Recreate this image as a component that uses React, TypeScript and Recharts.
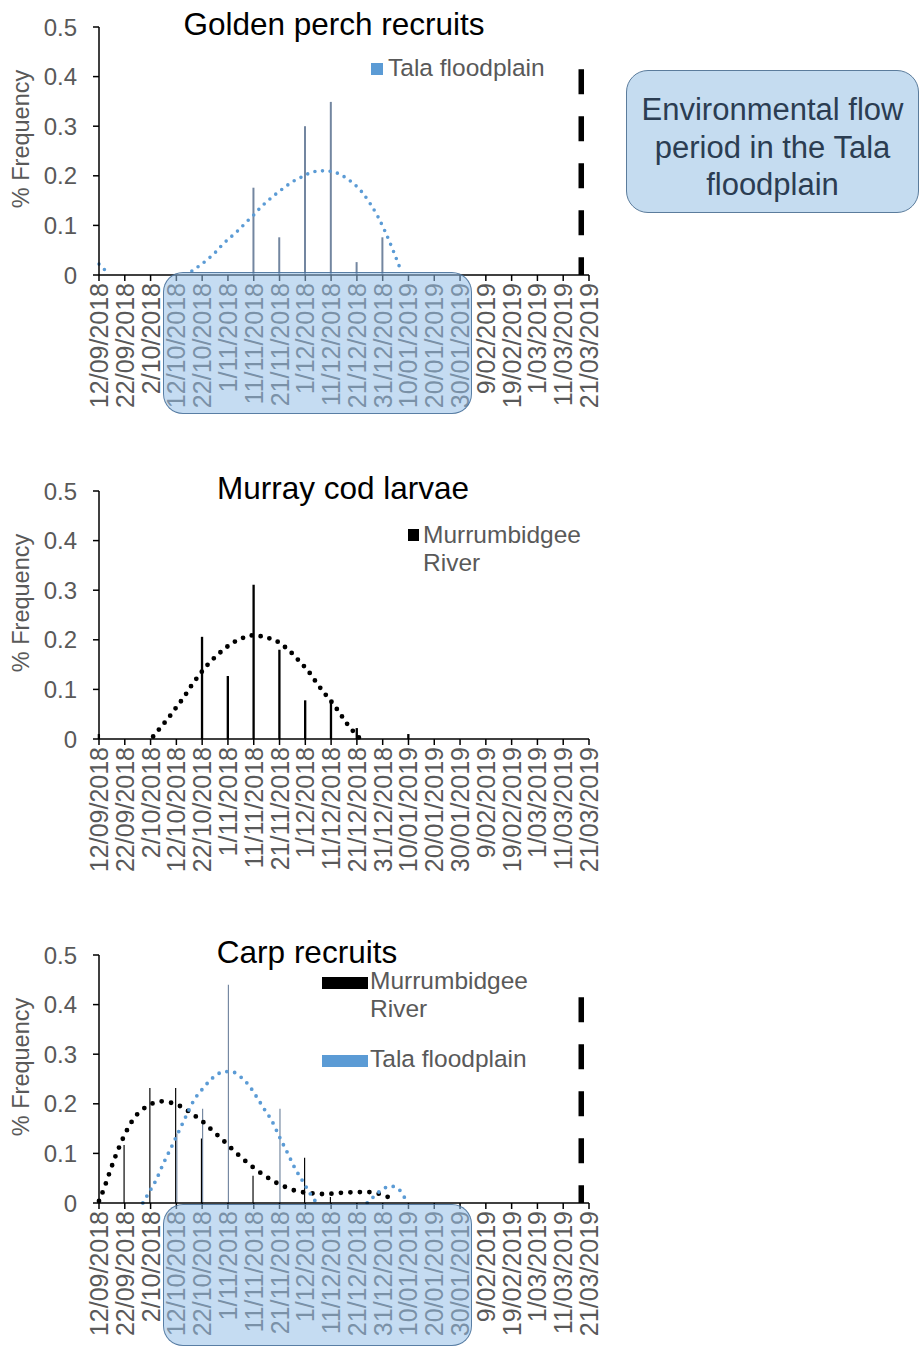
import React from "react";
import { ComposedChart, Bar, Line, XAxis, YAxis, ReferenceLine, Legend } from "recharts";

const FONT = "'Liberation Sans', Arial, Helvetica, sans-serif";
const GREY = "#595959";
const BLUE = "#5b9bd5";
const BLUE_BAR = "#7386a0";

// x axis: days since 12/09/2018, one tick every 10 days
const TICK_DAYS = [0, 10, 20, 30, 40, 50, 60, 70, 80, 90, 100, 110, 120, 130, 140, 150, 160, 170, 180, 190];
const TICK_LABELS = [
  "12/09/2018", "22/09/2018", "2/10/2018", "12/10/2018", "22/10/2018", "1/11/2018", "11/11/2018",
  "21/11/2018", "1/12/2018", "11/12/2018", "21/12/2018", "31/12/2018", "10/01/2019", "20/01/2019",
  "30/01/2019", "9/02/2019", "19/02/2019", "1/03/2019", "11/03/2019", "21/03/2019",
];
const Y_TICKS = [0, 0.1, 0.2, 0.3, 0.4, 0.5];
const FLOW_END_DAY = 187;
const FLOW_LINE_TOP = 0.415;

// Golden perch recruits (Tala floodplain)
const GP_BAR_DAYS = [60, 70, 80, 90, 100, 110];
const GP_BAR_TALA = [0.176, 0.076, 0.3, 0.349, 0.026, 0.076];
const GP_TREND_DAYS = [0, 3.5, 5, 36, 39, 42, 45, 48, 51, 54, 57, 60, 63, 66, 69, 72, 75, 78, 81, 84, 87, 90, 93, 96, 99, 102, 105, 108, 111, 114, 117];
const GP_TREND_TALA = [0.022, 0.004, null, 0.008, 0.019, 0.031, 0.045, 0.062, 0.076, 0.09, 0.106, 0.121, 0.138, 0.152, 0.165, 0.177, 0.188, 0.196, 0.204, 0.209, 0.21, 0.209, 0.204, 0.195, 0.183, 0.167, 0.145, 0.119, 0.087, 0.05, 0.01];

// Murray cod larvae (Murrumbidgee River)
const MC_BAR_DAYS = [0, 40, 50, 60, 70, 80, 90, 100, 120];
const MC_BAR_RIVER = [0.01, 0.206, 0.127, 0.311, 0.18, 0.078, 0.078, 0.022, 0.01];
const MC_TREND_DAYS = [21, 24, 27, 30, 33, 36, 39, 42, 45, 48, 51, 54, 57, 60, 63, 66, 69, 72, 75, 78, 81, 84, 87, 90, 93, 96, 99, 101];
const MC_TREND_RIVER = [0.005, 0.024, 0.043, 0.064, 0.085, 0.109, 0.13, 0.149, 0.165, 0.179, 0.191, 0.2, 0.206, 0.209, 0.207, 0.203, 0.197, 0.186, 0.172, 0.155, 0.138, 0.116, 0.095, 0.076, 0.055, 0.032, 0.013, 0.002];

// Carp recruits (both sites)
const CARP_BAR_DAYS = [10, 20, 30, 40, 50, 60, 70, 80, 90];
const CARP_BAR_RIVER = [0.117, 0.232, 0.232, 0.13, null, 0.055, null, 0.091, 0.012];
const CARP_BAR_TALA = [null, null, 0.14, 0.19, 0.44, null, 0.19, null, null];
const CARP_TREND_RIVER_DAYS = [0, 2, 4, 6, 8, 10, 12, 14, 17, 20, 24, 28, 32, 36, 40, 44, 48, 52, 56, 60, 64, 68, 72, 76, 80, 84, 88, 92, 96, 100, 105, 109, 113, 115];
const CARP_TREND_RIVER = [0.004, 0.03, 0.06, 0.089, 0.115, 0.138, 0.158, 0.174, 0.189, 0.199, 0.205, 0.202, 0.194, 0.18, 0.165, 0.146, 0.127, 0.107, 0.088, 0.071, 0.056, 0.043, 0.033, 0.025, 0.021, 0.019, 0.018, 0.02, 0.021, 0.022, 0.022, 0.018, 0.01, 0.005];
const CARP_TREND_TALA_DAYS = [17, 19, 22, 25, 28, 31, 34, 37, 40, 43, 46, 49, 52, 55, 58, 61, 64, 67, 70, 73, 76, 79, 82, 84, 95, 104, 107, 110, 113, 116, 118, 119.5];
const CARP_TREND_TALA = [0.0, 0.018, 0.045, 0.08, 0.112, 0.145, 0.178, 0.209, 0.229, 0.247, 0.26, 0.265, 0.264, 0.254, 0.238, 0.215, 0.19, 0.166, 0.133, 0.102, 0.07, 0.044, 0.018, 0.003, null, 0.0, 0.015, 0.028, 0.034, 0.029, 0.015, 0.002];

function rows(days: number[], cols: Record<string, (number | null)[]>) {
  return days.map((day, i) => {
    const r: Record<string, number | null> = { day };
    Object.keys(cols).forEach((k) => (r[k] = cols[k][i]));
    return r;
  });
}

function DateTick({ x, y, payload }: any) {
  const label = TICK_LABELS[TICK_DAYS.indexOf(payload.value)] ?? "";
  return (
    <text
      x={x}
      y={y}
      transform={`rotate(-90 ${x} ${y})`}
      textAnchor="end"
      dominantBaseline="central"
      fill={GREY}
      fontSize={25}
      fontFamily={FONT}
    >
      {label}
    </text>
  );
}

type Key = { x: number; y: number; w: number; h: number; color: string };
type Txt = { x: number; y: number; lines: string[] };

function legendContent(keys: Key[], texts: Txt[]) {
  return () => (
    <div style={{ position: "relative", width: 1, height: 1, fontFamily: FONT }}>
      {keys.map((k, i) => (
        <div key={i} style={{ position: "absolute", left: k.x, top: k.y, width: k.w, height: k.h, background: k.color }} />
      ))}
      {texts.map((t, i) => (
        <div key={i} style={{ position: "absolute", left: t.x, top: t.y, fontSize: 24.5, lineHeight: "28px", color: GREY, whiteSpace: "nowrap" }}>
          {t.lines.map((l) => (
            <div key={l}>{l}</div>
          ))}
        </div>
      ))}
    </div>
  );
}

type BarDef = { key: string; color: string; size: number };
type LineDef = { data: any[]; color: string; width: number; gap: number };

function FishChart({
  top,
  title,
  titleX,
  data,
  bars,
  lines,
  flowLine,
  legend,
}: {
  top: number;
  title: string;
  titleX: number;
  data: any[];
  bars: BarDef[];
  lines: LineDef[];
  flowLine: boolean;
  legend: () => React.ReactNode;
}) {
  return (
    <div style={{ position: "absolute", left: 0, top, width: 620, height: 417 }}>
      <ComposedChart
        width={620}
        height={417}
        data={data}
        margin={{ top: 27, right: 31, bottom: 0, left: 0 }}
        barGap={0}
      >
        <XAxis
          dataKey="day"
          type="number"
          domain={[0, 190]}
          ticks={TICK_DAYS}
          interval={0}
          height={142}
          tick={<DateTick />}
          tickSize={6}
          tickMargin={2}
          axisLine={{ stroke: "#000", strokeWidth: 1.5 }}
          tickLine={{ stroke: "#000", strokeWidth: 1.5 }}
        />
        <YAxis
          type="number"
          domain={[0, 0.5]}
          ticks={Y_TICKS}
          width={99}
          tickSize={6}
          tickMargin={16}
          tickFormatter={(v: number) => (v === 0 ? "0" : v.toFixed(1))}
          tick={{ fill: GREY, fontSize: 24, fontFamily: FONT }}
          axisLine={{ stroke: "#000", strokeWidth: 1.5 }}
          tickLine={{ stroke: "#000", strokeWidth: 1.5 }}
          label={{
            value: "% Frequency",
            angle: -90,
            position: "insideLeft",
            offset: 21,
            dy: -12,
            fill: GREY,
            fontSize: 23.5,
            fontFamily: FONT,
            style: { textAnchor: "middle" },
          }}
        />
        {bars.map((b) => (
          <Bar key={b.key} dataKey={b.key} fill={b.color} barSize={b.size} isAnimationActive={false} />
        ))}
        {lines.map((l, i) => (
          <Line
            key={i}
            data={l.data}
            dataKey="v"
            type="monotone"
            stroke={l.color}
            strokeWidth={l.width}
            strokeDasharray={`0 ${l.gap}`}
            strokeLinecap="round"
            dot={false}
            activeDot={false}
            connectNulls={false}
            isAnimationActive={false}
          />
        ))}
        {flowLine && (
          <ReferenceLine
            segment={[
              { x: FLOW_END_DAY, y: FLOW_LINE_TOP },
              { x: FLOW_END_DAY, y: 0 },
            ]}
            stroke="#000"
            strokeWidth={5.5}
            strokeDasharray="25 22"
          />
        )}
        <Legend
          layout="horizontal"
          align="center"
          verticalAlign="middle"
          content={legend}
          wrapperStyle={{ left: 0, top: 0, width: 1, height: 1 }}
        />
      </ComposedChart>
      <div
        style={{
          position: "absolute",
          left: titleX,
          top: 9,
          transform: "translateX(-50%)",
          fontSize: 31.5,
          lineHeight: "31.5px",
          color: "#000",
          fontFamily: FONT,
          whiteSpace: "nowrap",
        }}
      >
        {title}
      </div>
    </div>
  );
}

function FlowBand({ top, height }: { top: number; height: number }) {
  return (
    <div
      style={{
        position: "absolute",
        left: 163,
        top,
        width: 309,
        height,
        boxSizing: "border-box",
        borderRadius: 20,
        background: "rgba(150,192,232,0.55)",
        border: "1.5px solid rgba(70,110,150,0.85)",
      }}
    />
  );
}

export default function App() {
  const gpData = rows(GP_BAR_DAYS, { tala: GP_BAR_TALA });
  const mcData = rows(MC_BAR_DAYS, { river: MC_BAR_RIVER });
  const carpData = rows(CARP_BAR_DAYS, { river: CARP_BAR_RIVER, tala: CARP_BAR_TALA });

  return (
    <div style={{ position: "absolute", left: 0, top: 0, width: 922, height: 1346, background: "#fff", fontFamily: FONT }}>
      <FishChart
        top={0}
        title="Golden perch recruits"
        titleX={334}
        data={gpData}
        bars={[{ key: "tala", color: BLUE_BAR, size: 2 }]}
        lines={[{ data: rows(GP_TREND_DAYS, { v: GP_TREND_TALA }), color: BLUE, width: 3.6, gap: 7.6 }]}
        flowLine
        legend={legendContent(
          [{ x: 371, y: 63, w: 12, h: 12, color: BLUE }],
          [{ x: 388, y: 54, lines: ["Tala floodplain"] }]
        )}
      />
      <FlowBand top={272} height={142} />

      <FishChart
        top={464}
        title="Murray cod larvae"
        titleX={343}
        data={mcData}
        bars={[{ key: "river", color: "#000", size: 2.6 }]}
        lines={[{ data: rows(MC_TREND_DAYS, { v: MC_TREND_RIVER }), color: "#000", width: 4.8, gap: 9 }]}
        flowLine={false}
        legend={legendContent(
          [{ x: 408, y: 529 - 464, w: 11, h: 12, color: "#000" }],
          [{ x: 423, y: 521 - 464, lines: ["Murrumbidgee", "River"] }]
        )}
      />

      <FishChart
        top={928}
        title="Carp recruits"
        titleX={307}
        data={carpData}
        bars={[
          { key: "river", color: "#000", size: 2.6 },
          { key: "tala", color: BLUE_BAR, size: 2 },
        ]}
        lines={[
          { data: rows(CARP_TREND_RIVER_DAYS, { v: CARP_TREND_RIVER }), color: "#000", width: 4.8, gap: 9.5 },
          { data: rows(CARP_TREND_TALA_DAYS, { v: CARP_TREND_TALA }), color: BLUE, width: 3.8, gap: 8 },
        ]}
        flowLine
        legend={legendContent(
          [
            { x: 322, y: 977 - 928, w: 46, h: 12, color: "#000" },
            { x: 322, y: 1055 - 928, w: 46, h: 12, color: BLUE },
          ],
          [
            { x: 370, y: 967 - 928, lines: ["Murrumbidgee", "River"] },
            { x: 370, y: 1045 - 928, lines: ["Tala floodplain"] },
          ]
        )}
      />
      <FlowBand top={1204} height={142} />

      <div
        style={{
          position: "absolute",
          left: 626,
          top: 70,
          width: 293,
          height: 143,
          boxSizing: "border-box",
          borderRadius: 22,
          background: "#c5dcf0",
          border: "1.5px solid #5b7c9c",
          color: "#2b3d52",
          fontSize: 31,
          lineHeight: "37.5px",
          textAlign: "center",
          paddingTop: 20,
        }}
      >
        Environmental flow
        <br />
        period in the Tala
        <br />
        floodplain
      </div>
    </div>
  );
}
